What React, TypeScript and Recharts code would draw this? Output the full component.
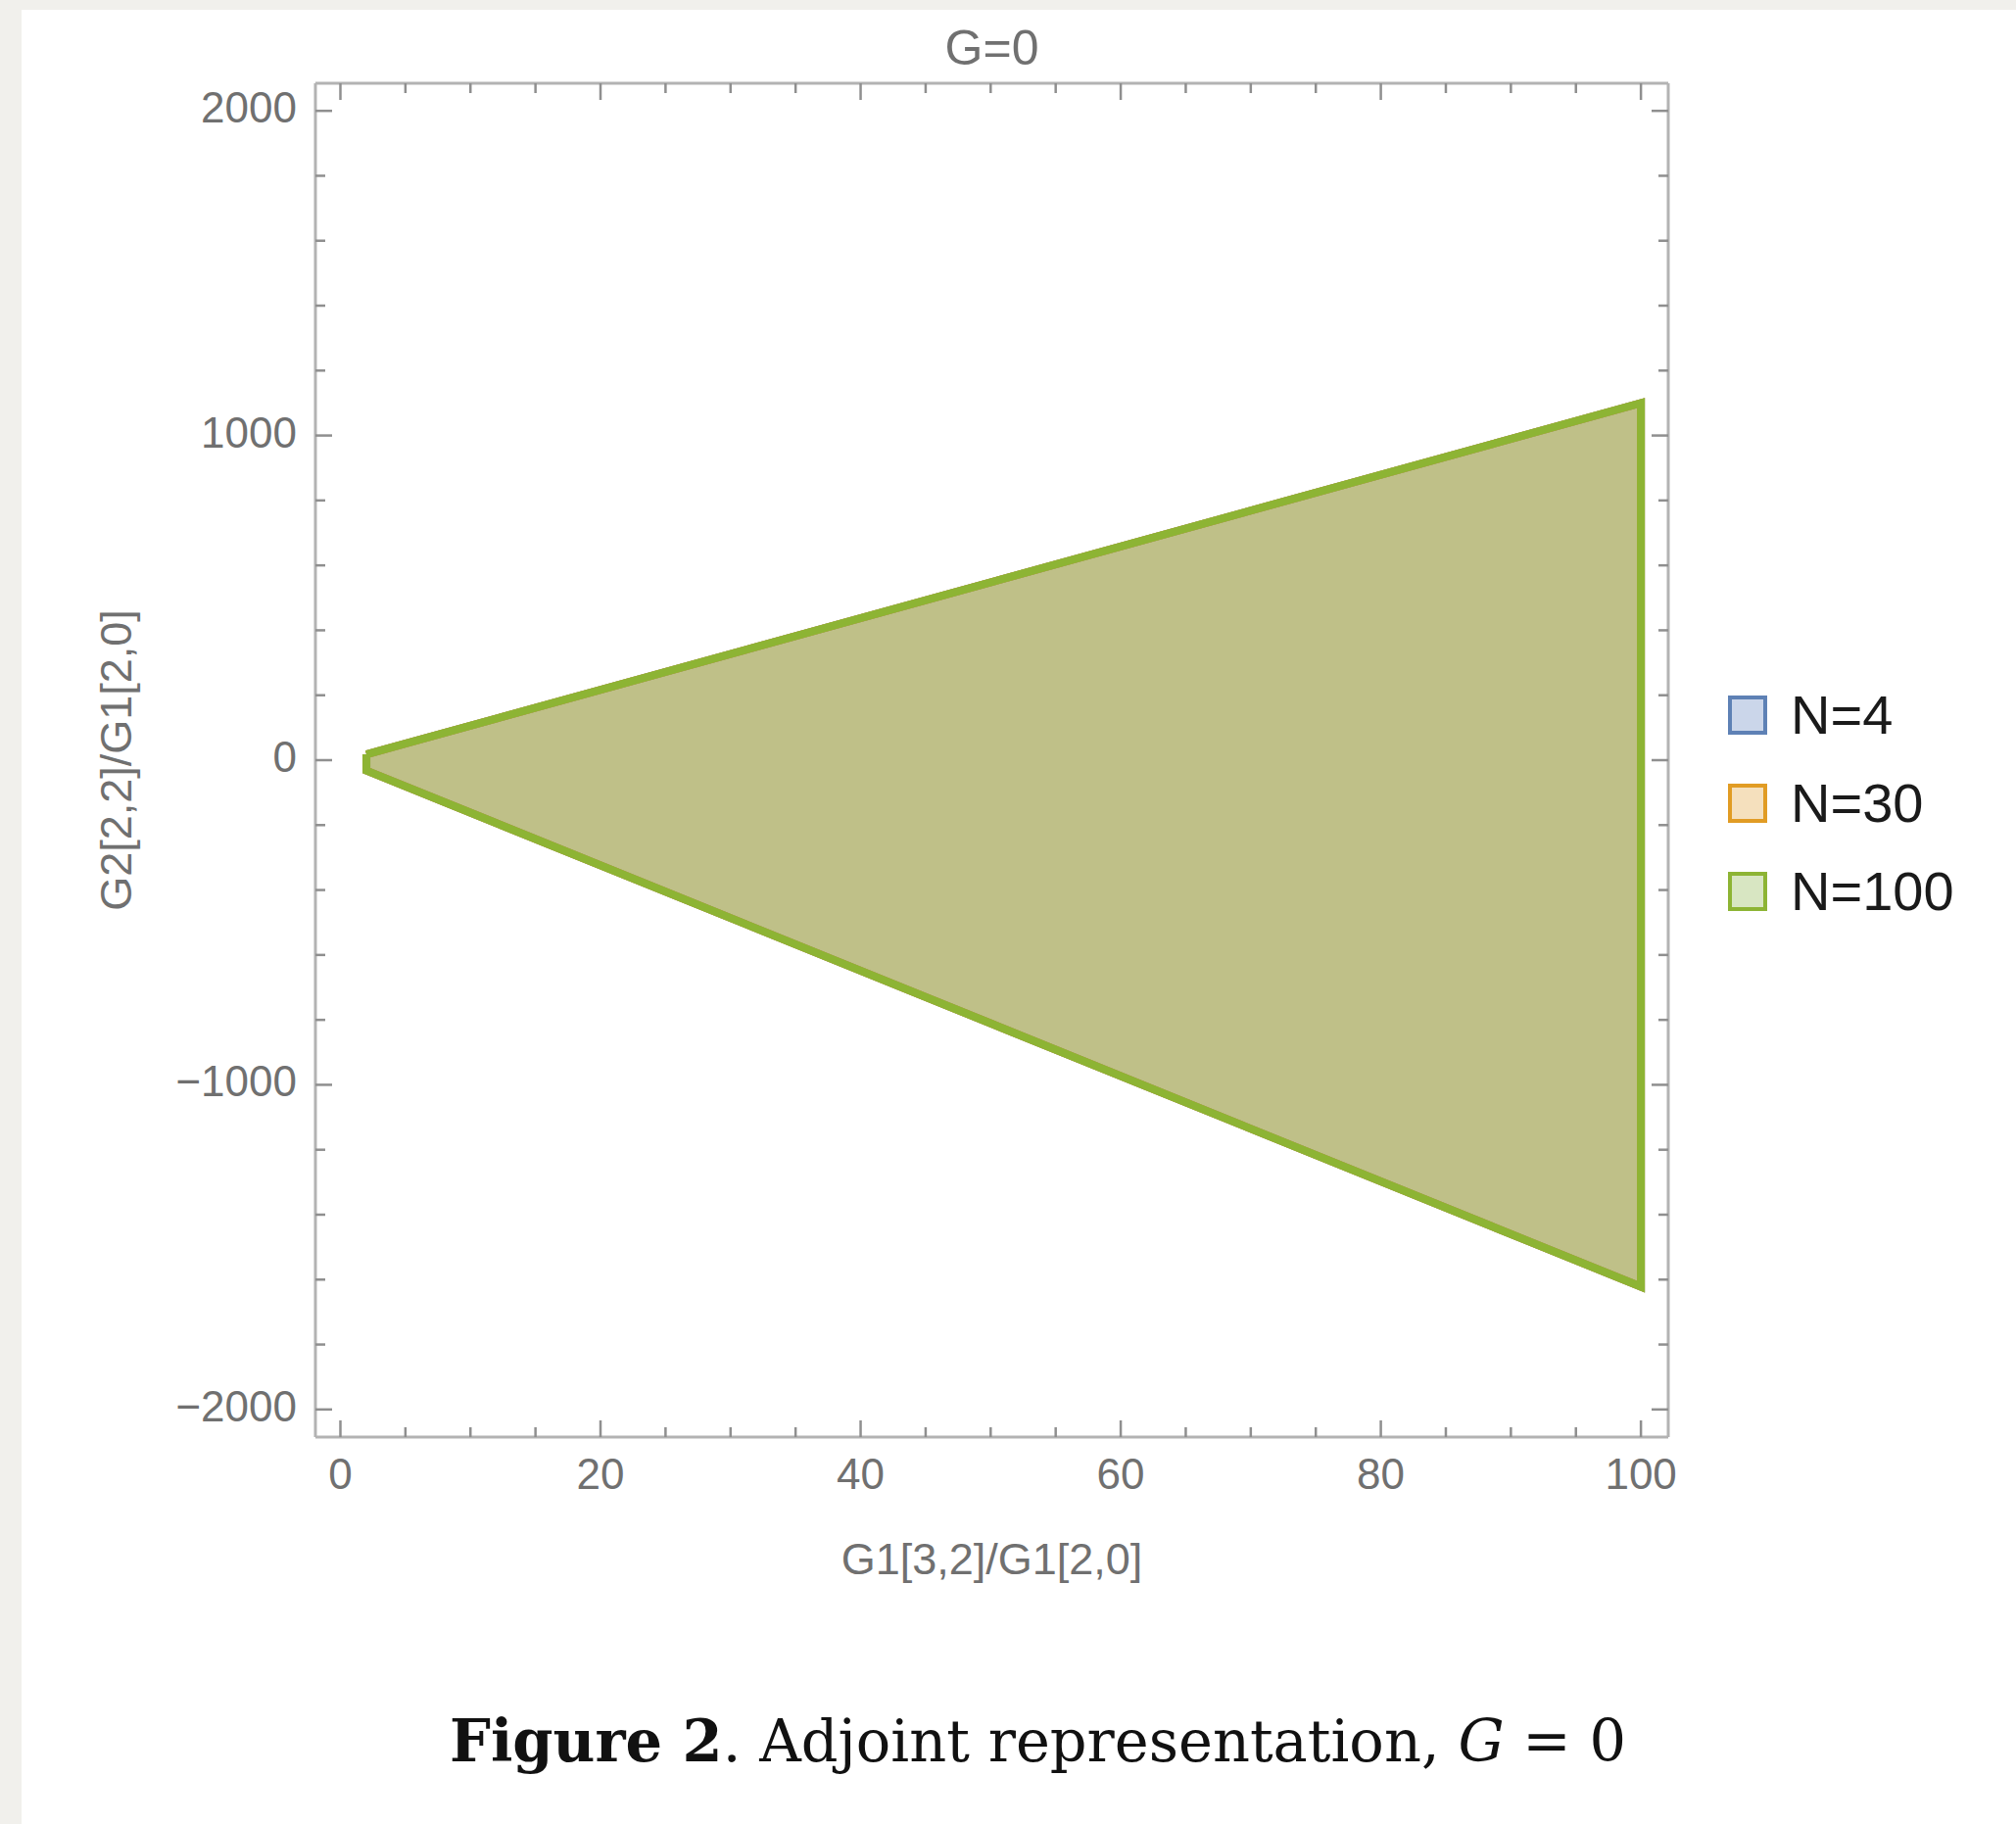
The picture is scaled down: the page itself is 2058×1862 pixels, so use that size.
import React from "react";
import {
  Area,
  ComposedChart,
  Label,
  Line,
  XAxis,
  YAxis,
} from "recharts";

// region edges: x positions of the two vertical sides, bounds read at each
const edgeX = [2, 100];

const n4Upper = [18, 1100];
const n4Lower = [-32, -1622];
const n30Upper = [18, 1100];
const n30Lower = [-32, -1622];
const n100Upper = [18, 1100];
const n100Lower = [-32, -1622];

const seriesNames = ["N=4", "N=30", "N=100"];

const xTicks = [0, 5, 10, 15, 20, 25, 30, 35, 40, 45, 50, 55, 60, 65, 70, 75, 80, 85, 90, 95, 100];
const xMajor = [0, 20, 40, 60, 80, 100];
const yTicks = [
  -2000, -1800, -1600, -1400, -1200, -1000, -800, -600, -400, -200, 0,
  200, 400, 600, 800, 1000, 1200, 1400, 1600, 1800, 2000,
];
const yMajor = [-2000, -1000, 0, 1000, 2000];

const series = [
  { key: "n4", name: seriesNames[0], upper: n4Upper, lower: n4Lower, color: "#5e81b5", swatch: "#cbd6ea" },
  { key: "n30", name: seriesNames[1], upper: n30Upper, lower: n30Lower, color: "#e19c24", swatch: "#f5e0bd" },
  { key: "n100", name: seriesNames[2], upper: n100Upper, lower: n100Lower, color: "#8db434", swatch: "#d8e6c2" },
];

const chartData = edgeX.map((x, i) => {
  const row: Record<string, any> = { x };
  series.forEach((s) => {
    row[s.key] = [s.lower[i], s.upper[i]];
  });
  return row;
});

const outline = (upper: number[], lower: number[]) => [
  { x: edgeX[0], y: upper[0] },
  { x: edgeX[1], y: upper[1] },
  { x: edgeX[1], y: lower[1] },
  { x: edgeX[0], y: lower[0] },
  { x: edgeX[0], y: upper[0] },
];

const frameColor = "#b3b3b3";
const tickColor = "#8f8f8f";
const labelColor = "#707070";
const sans = "'Liberation Sans', Arial, sans-serif";

const fmt = (v: number) => (v < 0 ? `\u2212${Math.abs(v)}` : `${v}`);

const BottomTick = (props: any) => {
  const { x, y, payload } = props;
  const major = xMajor.includes(payload.value);
  return (
    <g>
      <line x1={x} y1={y} x2={x} y2={y - (major ? 17 : 10)} stroke={tickColor} strokeWidth={2.5} />
      {major && (
        <text x={x} y={y + 53} textAnchor="middle" fontSize={44} fontFamily={sans} fill={labelColor}>
          {fmt(payload.value)}
        </text>
      )}
    </g>
  );
};

const TopTick = (props: any) => {
  const { x, y, payload } = props;
  const major = xMajor.includes(payload.value);
  return <line x1={x} y1={y} x2={x} y2={y + (major ? 17 : 10)} stroke={tickColor} strokeWidth={2.5} />;
};

const LeftTick = (props: any) => {
  const { x, y, payload } = props;
  const major = yMajor.includes(payload.value);
  return (
    <g>
      <line x1={x} y1={y} x2={x + (major ? 17 : 10)} y2={y} stroke={tickColor} strokeWidth={2.5} />
      {major && (
        <text x={x - 19} y={y + 12} textAnchor="end" fontSize={44} fontFamily={sans} fill={labelColor}>
          {fmt(payload.value)}
        </text>
      )}
    </g>
  );
};

const RightTick = (props: any) => {
  const { x, y, payload } = props;
  const major = yMajor.includes(payload.value);
  return <line x1={x} y1={y} x2={x - (major ? 17 : 10)} y2={y} stroke={tickColor} strokeWidth={2.5} />;
};

export default function App() {
  return (
    <div
      style={{
        position: "absolute",
        left: 0,
        top: 0,
        width: 2058,
        height: 1862,
        background: "#f1f0ec",
        overflow: "hidden",
      }}
    >
      <div
        style={{
          position: "absolute",
          left: 22,
          top: 10,
          right: 0,
          bottom: 0,
          background: "#ffffff",
        }}
      />

      <div style={{ position: "absolute", left: 0, top: 0 }}>
        <ComposedChart
          width={2058}
          height={1700}
          data={chartData}
          margin={{ top: 75, right: 345, bottom: 133, left: 222 }}
        >
          <XAxis
            xAxisId="bottom"
            type="number"
            dataKey="x"
            domain={[-1.92, 102.1]}
            allowDataOverflow
            ticks={xTicks}
            interval={0}
            tick={<BottomTick />}
            tickLine={false}
            tickSize={0}
            tickMargin={0}
            height={100}
            axisLine={{ stroke: frameColor, strokeWidth: 3 }}
          >
            <Label
              content={(p: any) => (
                <text
                  x={p.viewBox.x + p.viewBox.width / 2}
                  y={p.viewBox.y + 140}
                  textAnchor="middle"
                  fontSize={45}
                  fontFamily={sans}
                  fill={labelColor}
                >
                  G1[3,2]/G1[2,0]
                </text>
              )}
            />
          </XAxis>
          <XAxis
            xAxisId="top"
            orientation="top"
            type="number"
            dataKey="x"
            domain={[-1.92, 102.1]}
            allowDataOverflow
            ticks={xTicks}
            interval={0}
            tick={<TopTick />}
            tickLine={false}
            tickSize={0}
            tickMargin={0}
            height={10}
            axisLine={{ stroke: frameColor, strokeWidth: 3 }}
          >
            <Label
              content={(p: any) => (
                <text
                  x={p.viewBox.x + p.viewBox.width / 2}
                  y={p.viewBox.y - 9}
                  textAnchor="middle"
                  fontSize={50}
                  fontFamily={sans}
                  fill={labelColor}
                >
                  G=0
                </text>
              )}
            />
          </XAxis>
          <YAxis
            yAxisId="left"
            type="number"
            domain={[-2085, 2085]}
            allowDataOverflow
            ticks={yTicks}
            interval={0}
            tick={<LeftTick />}
            tickLine={false}
            tickSize={0}
            tickMargin={0}
            width={100}
            axisLine={{ stroke: frameColor, strokeWidth: 3 }}
          >
            <Label
              content={(p: any) => {
                const cx = p.viewBox.x - 88;
                const cy = p.viewBox.y + p.viewBox.height / 2;
                return (
                  <text
                    x={cx}
                    y={cy}
                    transform={`rotate(-90 ${cx} ${cy})`}
                    textAnchor="middle"
                    fontSize={45}
                    fontFamily={sans}
                    fill={labelColor}
                  >
                    G2[2,2]/G1[2,0]
                  </text>
                );
              }}
            />
          </YAxis>
          <YAxis
            yAxisId="right"
            orientation="right"
            type="number"
            domain={[-2085, 2085]}
            allowDataOverflow
            ticks={yTicks}
            interval={0}
            tick={<RightTick />}
            tickLine={false}
            tickSize={0}
            tickMargin={0}
            width={10}
            axisLine={{ stroke: frameColor, strokeWidth: 3 }}
          />

          {series.map((s) => (
            <Area
              key={`fill-${s.key}`}
              xAxisId="bottom"
              yAxisId="left"
              type="linear"
              dataKey={s.key}
              stroke="none"
              fill={s.color}
              fillOpacity={0.3}
              dot={false}
              activeDot={false}
              isAnimationActive={false}
            />
          ))}
          {series.map((s) => (
            <Line
              key={`edge-${s.key}`}
              xAxisId="bottom"
              yAxisId="left"
              type="linear"
              data={outline(s.upper, s.lower)}
              dataKey="y"
              stroke={s.color}
              strokeWidth={8}
              strokeLinejoin="miter"
              dot={false}
              activeDot={false}
              isAnimationActive={false}
            />
          ))}
        </ComposedChart>
      </div>

      {/* legend */}
      <div style={{ position: "absolute", left: 1764, top: 685, fontFamily: sans }}>
        {series.map((s) => (
          <div
            key={s.key}
            style={{ display: "flex", alignItems: "center", height: 90 }}
          >
            <div
              style={{
                width: 32,
                height: 32,
                border: `4px solid ${s.color}`,
                background: s.swatch,
              }}
            />
            <span style={{ marginLeft: 24, fontSize: 56, color: "#1a1a1a", lineHeight: "56px" }}>
              {s.name}
            </span>
          </div>
        ))}
      </div>

      {/* caption */}
      <div
        style={{
          position: "absolute",
          left: 459,
          top: 1738,
          fontFamily: "'DejaVu Serif', serif",
          fontSize: 59,
          color: "#111",
          whiteSpace: "nowrap",
          lineHeight: "80px",
        }}
      >
        <b>Figure 2</b>. Adjoint representation, <i>G</i> = 0
      </div>
    </div>
  );
}
